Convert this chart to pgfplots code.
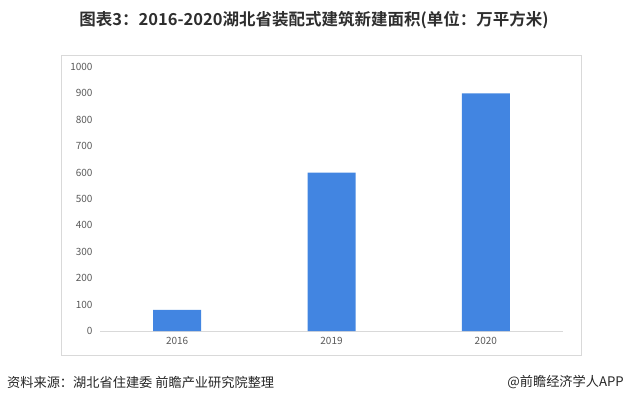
\documentclass[border=0pt]{standalone}
\usepackage{pgfplots}
\pgfplotsset{compat=1.18}
\usepackage{fontspec}
\setmainfont{Noto Sans CJK SC}
\newfontfamily\titlefont{Noto Sans CJK SC Bold}
\definecolor{barblue}{HTML}{4285E1}
\definecolor{ticktext}{HTML}{595959}
\definecolor{framegray}{HTML}{D9D9D9}
\begin{document}
\begin{tikzpicture}[x=1bp,y=1bp]
\path[use as bounding box] (0,0) rectangle (624,407);
\draw[framegray, line width=0.8bp] (61,52) rectangle (581,352);
\node[font=\titlefont\fontsize{16.5bp}{19bp}\selectfont, text=black!82] at (314,387) {图表3：2016-2020湖北省装配式建筑新建面积(单位：万平方米)};
\node[anchor=west, font=\fontsize{13.2bp}{15bp}\selectfont, text=black!85, inner sep=0] at (7,25) {资料来源：湖北省住建委 前瞻产业研究院整理};
\node[anchor=east, font=\fontsize{13.2bp}{15bp}\selectfont, text=black!85, inner sep=0] at (624,25) {@前瞻经济学人APP};
\begin{axis}[
  at={(100bp,76bp)}, anchor=south west,
  scale only axis, width=463bp, height=264bp,
  xmin=-0.5, xmax=2.5, ymin=0, ymax=1000,
  xtick={0,1,2}, xticklabels={2016,2019,2020},
  ytick={0,100,...,1000},
  axis x line=bottom, axis y line=left,
  axis line style={-},
  y axis line style={draw=none},
  x axis line style={draw=framegray, line width=0.8bp},
  major tick length=0,
  tick label style={font=\fontsize{10bp}{12bp}\selectfont, text=ticktext},
  /pgf/number format/assume math mode=true,
  /pgf/number format/1000 sep={},
  yticklabel style={xshift=-4bp},
  xticklabel style={yshift=-3bp},
  ybar, bar width=48bp,
  clip=false,
]
\addplot[fill=barblue, draw=none] coordinates {(0,80) (1,600) (2,900)};
\end{axis}
\end{tikzpicture}
\end{document}
